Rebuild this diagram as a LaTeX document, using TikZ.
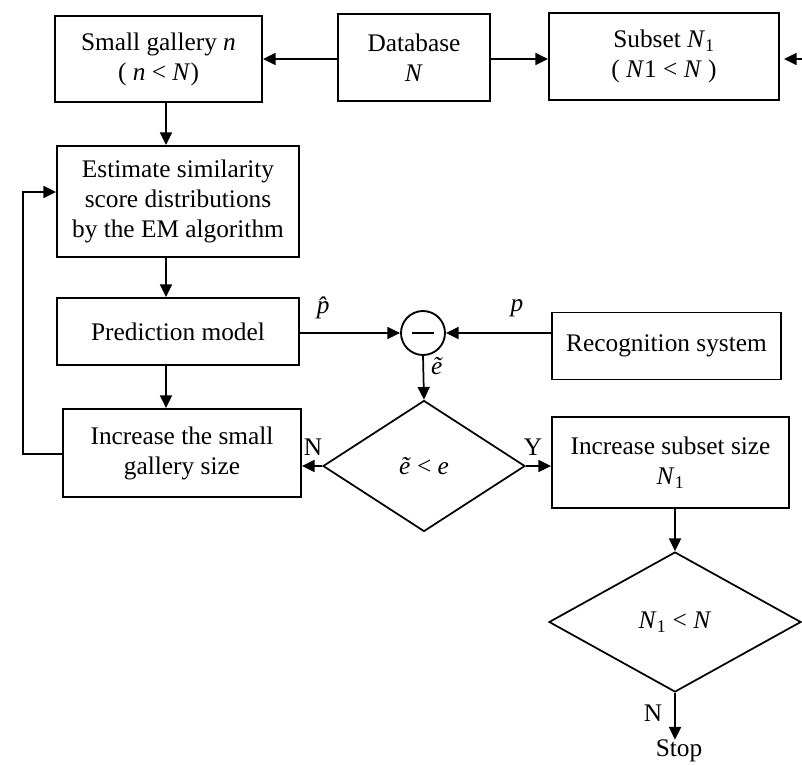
\documentclass[tikz,border=0pt]{standalone}
\usepackage{fontspec}
\setmainfont{Liberation Serif}
\usetikzlibrary{arrows.meta,shapes.geometric}

\begin{document}
\begin{tikzpicture}[
    x=0.75pt, y=-0.75pt,
    every node/.style={font=\fontsize{19pt}{22.5pt}\selectfont},
    box/.style={draw, line width=1.4pt, rectangle, inner sep=0pt, align=center},
    decision/.style={draw, line width=1.3pt, diamond, inner sep=0pt, align=center},
    sumnode/.style={draw, line width=1.4pt, circle, minimum size=33pt, inner sep=0pt,
      path picture={\draw[line width=1.4pt]
        ([xshift=-8.5pt]path picture bounding box.center) --
        ([xshift=8.5pt]path picture bounding box.center);}},
    arr/.style={line width=1.3pt, -{Triangle[length=9.5pt,width=9pt]}},
    lbl/.style={inner sep=0pt}
  ]
  \useasboundingbox (0,0) rectangle (802,764);

  % top row
  \node[box, minimum width=155.25pt, minimum height=64.5pt] (gal) at (158.5,59)
    {Small gallery \textit{n}\\( \textit{n} < \textit{N})};
  \node[box, minimum width=114pt, minimum height=65.25pt] (db) at (414,57.5)
    {Database\\\textit{N}};
  \node[box, minimum width=172.5pt, minimum height=65.25pt] (sub1) at (664,56.5)
    {Subset \textit{N}\textsubscript{1}\\( \textit{N}1 < \textit{N} )};

  % left column
  \node[box, minimum width=181.5pt, minimum height=83.25pt] (est) at (178,201.5)
    {Estimate similarity\\score distributions\\by the EM algorithm};
  \node[box, minimum width=181.5pt, minimum height=50.25pt] (pred) at (178,331.5)
    {Prediction model};
  \node[box, minimum width=178.5pt, minimum height=66pt] (inc) at (182,453)
    {Increase the small\\gallery size};

  % comparison of predicted and measured performance
  \node[sumnode] (diff) at (423,333) {};
  \node[box, minimum width=171.75pt, minimum height=50.25pt] (rec) at (666.5,346)
    {Recognition system};

  % decisions
  \node[decision, minimum width=151.5pt, minimum height=98.25pt] (dec1) at (424,466)
    {\textit{\~{e}} < \textit{e}};
  \node[box, minimum width=177.75pt, minimum height=68.25pt] (incsub) at (670.5,462.5)
    {Increase subset size\\\textit{N}\textsubscript{1}};
  \node[decision, minimum width=189pt, minimum height=105pt] (dec2) at (675,622)
    {\textit{N}\textsubscript{1} < \textit{N}};
  \node[lbl] (stop) at (679,751) {Stop};

  % helper coordinates
  \coordinate (row) at (0,59);
  \coordinate (colx) at (166,0);
  \coordinate (rin) at (815,59);
  \coordinate (fbx) at (23,0);
  \coordinate (fbtop) at (0,192);
  \coordinate (fbbot) at (0,454);

  % connectors
  \draw[arr] (db.west |- row) -- (gal.east |- row);
  \draw[arr] (db.east |- row) -- (sub1.west |- row);
  \draw[arr, shorten >=3pt] (rin) -- (sub1.east |- rin);

  \draw[arr] (gal.south -| colx) -- (est.north -| colx);
  \draw[arr] (est.south -| colx) -- (pred.north -| colx);
  \draw[arr] (pred.south -| colx) -- (inc.north -| colx);

  \draw[arr] (pred.east |- diff.west) -- (diff.west);
  \draw[arr] (rec.west |- diff.east) -- (diff.east);
  \draw[arr] (diff.south) -- (dec1.north);

  \draw[arr] (dec1.west) -- (inc.east |- dec1.west);
  \draw[arr] (dec1.east) -- (incsub.west |- dec1.east);
  \draw[arr] (incsub.south -| dec2.north) -- (dec2.north);
  \draw[arr] (dec2.south) -- (dec2.south |- stop.north);

  \draw[arr] (inc.west |- fbbot) -- (fbx |- fbbot) -- (fbx |- fbtop) -- (est.west |- fbtop);

  % signal and branch labels
  \node[lbl] at (328,308) {\textit{\^{p}}};
  \node[lbl] at (517,308) {\textit{p}};
  \node[lbl] at (437,366) {\textit{\~{e}}};
  \node[lbl] at (313,447) {N};
  \node[lbl] at (533,447) {Y};
  \node[lbl] at (653,713) {N};
\end{tikzpicture}
\end{document}
